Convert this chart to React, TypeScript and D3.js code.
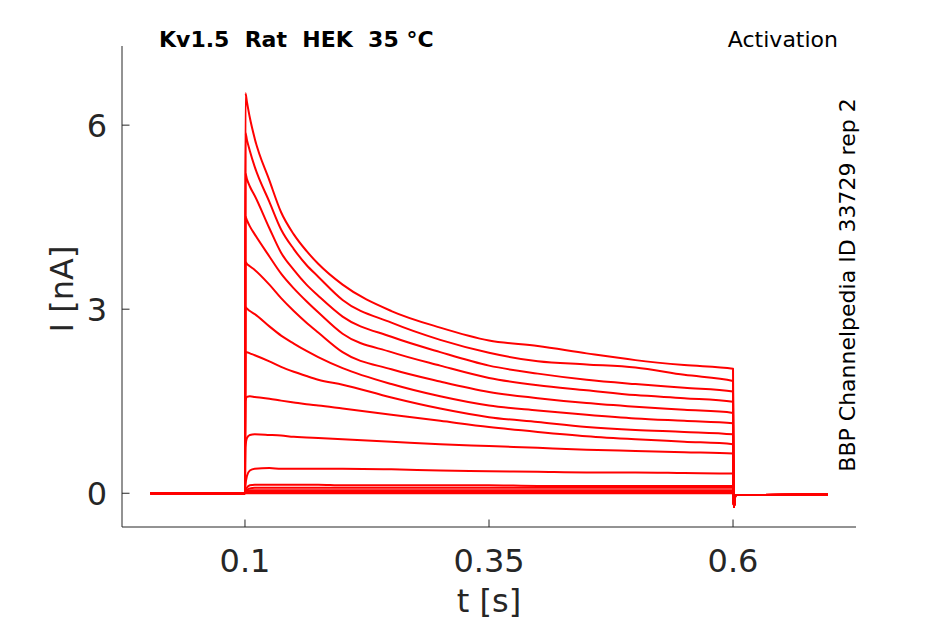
import React from "react";
import * as d3 from "d3";

// time samples (s) during the voltage step
const stepTimes = [0.1005, 0.102, 0.105, 0.11, 0.125, 0.137, 0.15, 0.163, 0.175, 0.2, 0.25, 0.3, 0.35, 0.4, 0.45, 0.5, 0.55, 0.6];

// current (nA) for each sweep, read at stepTimes
const sweep1 = [6.52, 6.38, 6.12, 5.78, 5.10, 4.58, 4.22, 3.95, 3.74, 3.40, 2.97, 2.70, 2.49, 2.40, 2.28, 2.17, 2.09, 2.03];
const sweep2 = [5.87, 5.76, 5.58, 5.32, 4.75, 4.30, 3.98, 3.72, 3.53, 3.15, 2.78, 2.50, 2.29, 2.15, 2.10, 2.05, 1.93, 1.83];
const sweep3 = [5.21, 5.12, 5.0, 4.85, 4.32, 3.92, 3.64, 3.40, 3.22, 2.88, 2.55, 2.30, 2.08, 1.95, 1.85, 1.78, 1.72, 1.66];
const sweep4 = [4.51, 4.45, 4.35, 4.22, 3.86, 3.58, 3.34, 3.13, 2.95, 2.60, 2.30, 2.08, 1.88, 1.76, 1.68, 1.60, 1.55, 1.49];
const sweep5 = [3.77, 3.74, 3.70, 3.64, 3.40, 3.18, 2.97, 2.78, 2.62, 2.30, 2.02, 1.82, 1.65, 1.55, 1.47, 1.41, 1.36, 1.31];
const sweep6 = [3.03, 3.01, 2.97, 2.92, 2.72, 2.57, 2.44, 2.32, 2.22, 2.04, 1.78, 1.58, 1.43, 1.35, 1.28, 1.22, 1.18, 1.14];
const sweep7 = [2.30, 2.30, 2.28, 2.25, 2.15, 2.06, 1.98, 1.91, 1.85, 1.77, 1.56, 1.38, 1.24, 1.16, 1.08, 1.03, 1.00, 0.96];
const sweep8 = [1.50, 1.57, 1.58, 1.57, 1.54, 1.51, 1.48, 1.45, 1.43, 1.38, 1.28, 1.18, 1.08, 1.00, 0.93, 0.88, 0.84, 0.80];
const sweep9 = [0.75, 0.90, 0.95, 0.96, 0.95, 0.94, 0.92, 0.91, 0.90, 0.88, 0.84, 0.80, 0.77, 0.74, 0.71, 0.69, 0.67, 0.65];
const sweep10 = [0.12, 0.28, 0.37, 0.40, 0.41, 0.40, 0.40, 0.40, 0.40, 0.40, 0.39, 0.37, 0.36, 0.35, 0.34, 0.34, 0.33, 0.32];
const sweep11 = [0.04, 0.09, 0.13, 0.14, 0.14, 0.14, 0.14, 0.14, 0.14, 0.13, 0.13, 0.13, 0.13, 0.12, 0.12, 0.12, 0.12, 0.12];
const sweep12 = [0.02, 0.05, 0.08, 0.09, 0.09, 0.09, 0.09, 0.09, 0.09, 0.09, 0.09, 0.09, 0.09, 0.09, 0.09, 0.09, 0.09, 0.09];
const sweep13 = [0.02, 0.04, 0.05, 0.05, 0.05, 0.05, 0.05, 0.05, 0.05, 0.05, 0.05, 0.05, 0.05, 0.05, 0.05, 0.05, 0.05, 0.05];
const sweep14 = [0.01, 0.02, 0.02, 0.02, 0.02, 0.02, 0.02, 0.02, 0.02, 0.02, 0.02, 0.02, 0.02, 0.02, 0.02, 0.02, 0.02, 0.02];
const sweep15 = [0, 0, 0, 0, 0, 0, 0, 0, 0, 0, 0, 0, 0, 0, 0, 0, 0, 0];
const sweeps = [sweep1, sweep2, sweep3, sweep4, sweep5, sweep6, sweep7, sweep8, sweep9, sweep10, sweep11, sweep12, sweep13, sweep14, sweep15];

// holding level before and after the step
const preTimes = [0.003, 0.1];
const preValues = [0, 0];
const tailTimes = [0.6006, 0.601, 0.6025, 0.697];
const tailValues = [-0.1, -0.22, -0.03, -0.02];

const xTicks = [0.1, 0.35, 0.6];
const yTicks = [0, 3, 6];

const W = 945;
const H = 624;
const axisColor = "#262626";
const font = "'DejaVu Sans', sans-serif";

export default function App() {
  const x = d3.scaleLinear().domain([-0.026, 0.726]).range([122, 856]);
  const y = d3.scaleLinear().domain([-0.55, 7.29]).range([527, 46]);

  const line = d3
    .line<[number, number]>()
    .x((d) => x(d[0]))
    .y((d) => y(d[1]))
    .curve(d3.curveMonotoneX);

  const paths = sweeps.map((vals) => {
    const pts: [number, number][] = [];
    preTimes.forEach((t, i) => pts.push([t, preValues[i]]));
    stepTimes.forEach((t, i) => pts.push([t, vals[i]]));
    tailTimes.forEach((t, i) => pts.push([t, tailValues[i]]));
    return line(pts) as string;
  });

  const [x0, x1] = x.range();
  const [yb, yt] = y.range();

  return (
    <svg
      width={W}
      height={H}
      style={{ position: "absolute", left: 0, top: 0, background: "#fff" }}
      fontFamily={font}
    >
      {/* axes */}
      <line x1={x0} x2={x1} y1={yb} y2={yb} stroke={axisColor} strokeWidth={1} />
      <line x1={x0} x2={x0} y1={yb} y2={yt} stroke={axisColor} strokeWidth={1} />
      {xTicks.map((t) => (
        <g key={t}>
          <line x1={x(t)} x2={x(t)} y1={yb} y2={yb - 7.5} stroke={axisColor} />
          <text x={x(t)} y={572} textAnchor="middle" fontSize={32} fill={axisColor}>
            {t}
          </text>
        </g>
      ))}
      {yTicks.map((t) => (
        <g key={t}>
          <line x1={x0} x2={x0 + 7.5} y1={y(t)} y2={y(t)} stroke={axisColor} />
          <text x={107} y={y(t) + 11.5} textAnchor="end" fontSize={32} fill={axisColor}>
            {t}
          </text>
        </g>
      ))}
      <text x={489} y={612} textAnchor="middle" fontSize={32} fill={axisColor}>
        t [s]
      </text>
      <text
        transform={`translate(73,289) rotate(-90)`}
        textAnchor="middle"
        fontSize={32}
        fill={axisColor}
      >
        I [nA]
      </text>

      {/* traces */}
      {paths.map((d, i) => (
        <path key={i} d={d} fill="none" stroke="#ff0000" strokeWidth={2} strokeLinejoin="round" />
      ))}

      {/* annotations */}
      <text x={159} y={47} fontSize={22} fontWeight="bold" fill="#000" style={{ whiteSpace: "pre" }}>
        {"Kv1.5  Rat  HEK  35 °C"}
      </text>
      <text x={838} y={47} textAnchor="end" fontSize={22} fill="#000">
        Activation
      </text>
      <text
        transform={`translate(855,285) rotate(-90)`}
        textAnchor="middle"
        fontSize={22}
        fill="#000"
      >
        BBP Channelpedia ID 33729 rep 2
      </text>
    </svg>
  );
}
